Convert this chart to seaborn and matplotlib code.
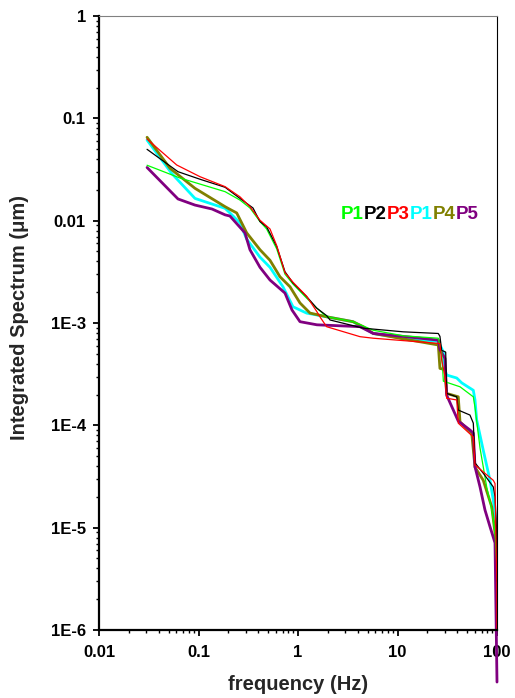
import matplotlib
matplotlib.use("Agg")
import numpy as np
import pandas as pd
import seaborn as sns
import matplotlib.pyplot as plt
from matplotlib.ticker import FixedLocator, FixedFormatter, LogLocator, NullFormatter

# ---------------- data ----------------
green_f = [0.0304, 0.0652, 0.185, 0.261, 0.329, 0.415, 0.484, 0.611, 0.74, 0.891, 1.22, 1.54, 1.94,
           3.57, 5.71, 11.4, 25.7, 27.8, 28.9, 42.5, 57.8, 60.1, 67.5, 78.8, 88.5, 95.5, 100]
green_v = [0.0348, 0.0261, 0.0192, 0.0159, 0.0133, 0.0098, 0.0083, 0.0053, 0.0030, 0.0024, 0.00175,
           0.0014, 0.00115, 0.00103, 0.00085, 0.00075, 0.00071, 0.00051, 0.00027, 0.000238, 0.00019,
           0.00015, 6.0e-5, 2.5e-5, 1.5e-5, 8.9e-6, 4e-6]

black_f = [0.0304, 0.0622, 0.1035, 0.185, 0.261, 0.353, 0.415, 0.484, 0.611, 0.74, 0.891, 1.222, 1.54,
           1.94, 2.1, 4.53, 11.4, 25.7, 26.7, 27.8, 30.5, 31.2, 39.4, 40.8, 53.5, 57.8, 60.1, 72.8,
           91.8, 95.5, 99.3, 100]
black_v = [0.0498, 0.0301, 0.0254, 0.0212, 0.0165, 0.0133, 0.0098, 0.0087, 0.0056, 0.00317, 0.00246,
           0.00181, 0.0014, 0.00118, 0.00107, 0.00089, 0.00082, 0.00079, 0.00074, 0.00054, 0.00052,
           0.000205, 0.00019, 0.000141, 0.000126, 0.000105, 4.3e-5, 3.4e-5, 2.5e-5, 2.0e-5, 8.9e-6, 3e-6]

red_f = [0.0304, 0.0604, 0.1035, 0.185, 0.261, 0.329, 0.415, 0.523, 0.611, 0.74, 0.891, 1.22, 1.54,
         1.66, 1.94, 4.2, 5.71, 26.7, 27.8, 30.0, 31.2, 39.4, 40.8, 57.8, 60.1, 91.8, 95.5, 99.5, 100]
red_v = [0.0627, 0.035, 0.0269, 0.0215, 0.0171, 0.0137, 0.0101, 0.0083, 0.0057, 0.0031, 0.0025,
         0.00183, 0.0013, 0.00115, 0.00092, 0.000735, 0.00071, 0.00063, 0.000435, 0.0003, 0.000184,
         0.000177, 0.000105, 7.7e-5, 4.1e-5, 2.9e-5, 2.7e-5, 3e-6, 5e-7]

cyan_f = [0.0304, 0.0537, 0.0922, 0.185, 0.207, 0.261, 0.305, 0.415, 0.523, 0.706, 0.891, 1.22, 1.94,
          3.57, 4.53, 5.71, 11.4, 25.7, 28.9, 30.0, 31.2, 39.4, 44.2, 57.8, 60.1, 62.5, 72.8, 85.1,
          91.8, 99.3, 100]
cyan_v = [0.0614, 0.029, 0.0165, 0.0132, 0.0119, 0.0095, 0.0066, 0.0044, 0.0035, 0.00226, 0.00144,
          0.00125, 0.00115, 0.00103, 0.0009, 0.00079, 0.00071, 0.00066, 0.00052, 0.00035, 0.00031,
          0.00029, 0.00026, 0.00022, 0.000177, 0.000113, 5.7e-5, 2.9e-5, 1.86e-5, 1.0e-5, 5e-6]

olive_f = [0.0304, 0.0517, 0.0922, 0.185, 0.207, 0.242, 0.305, 0.415, 0.523, 0.659, 0.831, 1.047, 1.32,
           1.94, 3.57, 4.53, 5.71, 11.4, 25.7, 26.7, 30.0, 31.2, 40.8, 42.5, 55.7, 60.1, 72.8, 88.5,
           95.5, 100]
olive_v = [0.0653, 0.0325, 0.0207, 0.0137, 0.0129, 0.0119, 0.0076, 0.0052, 0.0041, 0.00283, 0.00226,
           0.00157, 0.00125, 0.00115, 0.00103, 0.00092, 0.00079, 0.0007, 0.00061, 0.00036, 0.00035,
           0.000205, 0.00019, 0.000108, 8.4e-5, 3.9e-5, 2.9e-5, 1.6e-5, 8.9e-6, 4e-6]

purple_f = [0.0304, 0.0622, 0.0922, 0.1367, 0.185, 0.207, 0.293, 0.329, 0.415, 0.523, 0.74, 0.87, 1.047,
            1.55, 3.33, 4.2, 5.71, 11.4, 25.7, 26.7, 30.0, 31.2, 40.8, 53.5, 57.8, 60.1, 67.5, 75.7,
            85.1, 95.5, 100]
purple_v = [0.0331, 0.0163, 0.0142, 0.013, 0.0114, 0.0111, 0.0076, 0.0052, 0.0035, 0.00263, 0.00196,
            0.00134, 0.00103, 0.00096, 0.00093, 0.00092, 0.00079, 0.00074, 0.00068, 0.00055, 0.00045,
            0.000197, 0.00011, 9.0e-5, 8.4e-5, 3.94e-5, 2.5e-5, 1.49e-5, 1.02e-5, 7.1e-6, 3.1e-7]

legend_labels = ["P1", "P2", "P3", "P1", "P4", "P5"]
legend_colors = ["#00ff00", "#000000", "#ff0000", "#00ffff", "#808000", "#800080"]

x_ticks = [0.01, 0.1, 1, 10, 100]
x_tick_labels = ["0.01", "0.1", "1", "10", "100"]
y_ticks = [1e-6, 1e-5, 1e-4, 1e-3, 1e-2, 1e-1, 1]
y_tick_labels = ["1E-6", "1E-5", "1E-4", "1E-3", "0.01", "0.1", "1"]

# ---------------- figure ----------------
sns.set_style("ticks")
plt.rcParams['font.family'] = ['Liberation Sans', 'DejaVu Sans']
plt.rcParams['font.weight'] = 'bold'

W, H = 515, 698
fig = plt.figure(figsize=(W / 100, H / 100), dpi=100)
ax = fig.add_axes([99 / W, 1 - 630 / H, 398 / W, 614 / H])

# drawing order: thick first, then thin
series = [
    ("P1b", cyan_f, cyan_v, "#00ffff", 2.0, True),
    ("P4", olive_f, olive_v, "#808000", 2.0, True),
    ("P5", purple_f, purple_v, "#800080", 2.0, False),
    ("P1", green_f, green_v, "#00ff00", 0.9, True),
    ("P2", black_f, black_v, "#000000", 0.9, True),
    ("P3", red_f, red_v, "#ff0000", 0.9, True),
]
for name, f, v, c, lw, clip in series:
    df = pd.DataFrame({"f": f, "v": v})
    sns.lineplot(data=df, x="f", y="v", ax=ax, color=c, linewidth=lw, sort=False,
                 estimator=None, legend=False)
    ax.lines[-1].set_clip_on(clip)

ax.set_xscale("log")
ax.set_yscale("log")
ax.set_xlim(0.01, 100)
ax.set_ylim(1e-6, 1)

ax.xaxis.set_major_locator(FixedLocator(x_ticks))
ax.xaxis.set_major_formatter(FixedFormatter(x_tick_labels))
ax.yaxis.set_major_locator(FixedLocator(y_ticks))
ax.yaxis.set_major_formatter(FixedFormatter(y_tick_labels))
ax.xaxis.set_minor_locator(LogLocator(base=10, subs=np.arange(2, 10), numticks=20))
ax.yaxis.set_minor_locator(LogLocator(base=10, subs=np.arange(2, 10), numticks=20))
ax.xaxis.set_minor_formatter(NullFormatter())
ax.yaxis.set_minor_formatter(NullFormatter())

ax.tick_params(axis="both", which="major", direction="out", length=4.5, width=1.3,
               labelsize=12, pad=5, colors="black")
ax.tick_params(axis="both", which="minor", direction="out", length=2.5, width=1.0, colors="black")
ax.tick_params(axis="x", which="major", pad=6)
for lab in ax.get_xticklabels() + ax.get_yticklabels():
    lab.set_fontweight("bold")

for side in ["left", "bottom"]:
    ax.spines[side].set_linewidth(1.6)
    ax.spines[side].set_color("black")
ax.spines["top"].set_visible(True)
ax.spines["right"].set_visible(True)
ax.spines["top"].set_linewidth(0.8)
ax.spines["top"].set_color("#808080")
ax.spines["right"].set_linewidth(0.8)
ax.spines["right"].set_color("black")

ax.set_xlabel("")
ax.set_ylabel("")
fig.text(298 / W, 1 - 685 / H, "frequency (Hz)", ha="center", va="center",
         fontsize=14.5, fontweight="bold")
fig.text(20 / W, 1 - 318 / H, "Integrated Spectrum (\u03bcm)", ha="center", va="center",
         rotation=90, fontsize=14.5, fontweight="bold")

# coloured legend text
fig.canvas.draw()
r = fig.canvas.get_renderer()
xp = 341
for lab, c in zip(legend_labels, legend_colors):
    t = fig.text(xp / W, 1 - 214 / H, lab, color=c, fontsize=13.5, fontweight="bold",
                 ha="left", va="center")
    bb = t.get_window_extent(r)
    xp += bb.width

fig.savefig("out.png", dpi=100)
